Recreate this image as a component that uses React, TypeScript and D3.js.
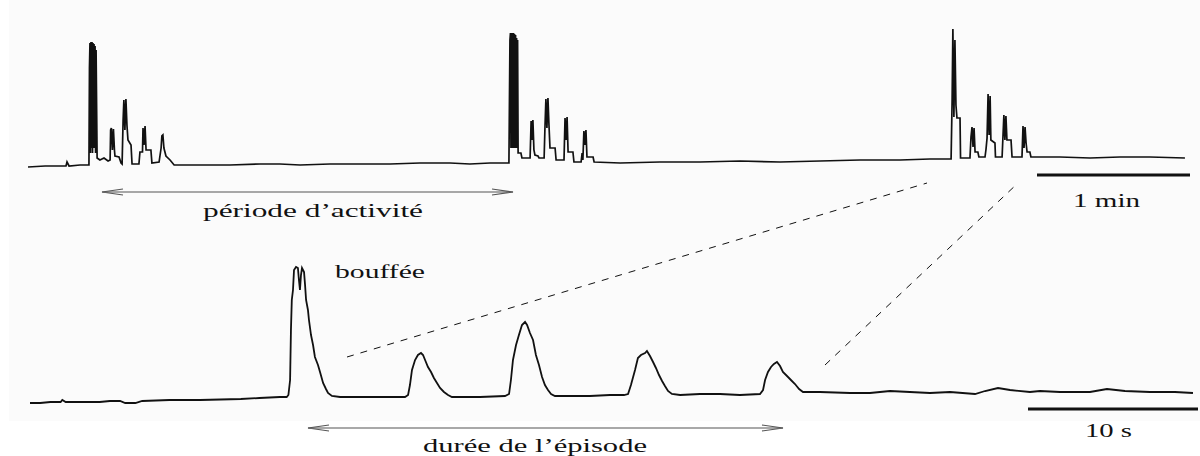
import React from "react";
import * as d3 from "d3";

// Top trace: time (s) and amplitude (arbitrary units)
const topTime: number[] = [
  0, 6.7, 12.5, 14.9, 15.3, 16.1, 20.4, 23.9,
  24.1, 24.3, 24.5, 24.7, 24.9, 25.1, 25.3, 25.5, 25.7, 25.9, 26.1, 26.3, 26.5, 26.7,
  27.1, 28.2, 29.8, 31.4, 32.2,
  32.4, 32.7, 33.1, 33.5, 33.9, 34.1, 35.7, 36.5, 36.9,
  37.3, 37.6, 38.0, 38.4, 38.8, 39.2, 40.4, 40.8, 43.5, 43.9, 44.9,
  45.1, 45.5, 45.9, 46.3, 48.2, 48.6, 51.4, 52.2, 52.5, 52.9, 53.3, 54.1, 55.7, 57.3,
  67.5, 79.2, 91.0, 98.8, 106.7, 118.4, 130.2, 142.0, 153.7, 165.5, 173.3, 181.2, 188.6,
  189.0, 189.2, 189.4, 189.6, 189.8, 190.0, 190.2, 190.4, 190.6, 190.8, 191.0, 191.2, 191.4, 191.6, 191.8, 192.0,
  192.2, 193.3, 193.7, 196.9,
  197.3, 197.6, 198.0, 198.4, 198.8, 200.0, 200.4, 202.4,
  202.7, 203.1, 203.5, 203.9, 204.3, 204.7, 206.7, 207.1, 210.2,
  210.6, 211.0, 211.4, 211.8, 213.7, 214.1, 216.9, 217.3, 217.6,
  218.0, 218.4, 218.8, 219.2, 221.6, 222.0,
  232.2, 247.8, 263.5, 279.2, 294.9, 310.6, 326.3, 342.0, 353.7, 362.0,
  362.4, 362.7, 363.1, 363.5, 363.9, 364.3, 365.5, 365.7, 369.4,
  369.8, 370.2, 370.6, 371.0, 371.4, 372.5, 372.9, 375.3,
  375.7, 376.1, 376.5, 376.9, 377.3, 377.6, 379.2, 379.4, 382.0,
  382.7, 383.1, 383.5, 383.9, 385.5, 385.9, 389.8,
  390.2, 390.6, 391.0, 391.4, 391.8, 392.9, 393.3,
  404.7, 416.5, 428.2, 440.0, 453.7,
];
const topValue: number[] = [
  1, 2, 2, 2, 6, 2, 3, 3,
  100, 125, 15, 126, 20, 126, 15, 125, 20, 124, 20, 122, 15, 118,
  10, 8, 10, 7, 8,
  38, 40, 18, 39, 18, 12, 11, 5, 4,
  48, 68, 38, 69, 43, 28, 23, 4, 4, 16, 16,
  40, 23, 42, 18, 18, 5, 6, 20, 32, 33, 20, 12, 8, 3,
  3, 3, 4, 4, 3, 4, 4, 4, 5, 5, 4, 5, 5,
  128, 135, 20, 135, 20, 135, 20, 135, 20, 134, 20, 133, 20, 130, 20, 128,
  15, 15, 10, 10,
  47, 28, 48, 18, 13, 12, 10, 10,
  38, 69, 40, 70, 43, 20, 20, 8, 8,
  50, 28, 51, 16, 16, 6, 6, 15, 8,
  37, 23, 38, 11, 11, 6,
  5, 6, 6, 7, 6, 7, 8, 8, 9, 9,
  68, 139, 51, 128, 63, 50, 50, 10, 10,
  31, 41, 21, 40, 16, 16, 11, 11,
  19, 30, 74, 33, 72, 28, 25, 11, 11,
  53, 28, 52, 28, 28, 11, 11,
  42, 20, 41, 25, 16, 16, 11,
  11, 10, 11, 11, 10,
];

// Bottom trace (zoom on one episode): time (s) and amplitude
const botTime: number[] = [
  0, 0.6, 1.2, 1.8, 1.9, 2.1, 4.1, 4.7, 5.3, 5.6, 6.2, 6.6, 8.2, 10.0, 12.4, 13.5, 14.7, 15.1,
  15.2, 15.3, 15.35, 15.4, 15.47, 15.53, 15.65, 15.76, 15.82, 15.88, 15.94, 16.0, 16.12, 16.18,
  16.24, 16.35, 16.41, 16.53, 16.65, 16.76, 16.94, 17.06, 17.24, 17.41, 17.53, 17.76, 18.24,
  20.0, 22.06,
  22.24, 22.35, 22.47, 22.65, 22.82, 23.0, 23.12, 23.24, 23.41, 23.59, 23.76, 23.94, 24.12, 24.35, 24.59, 24.82,
  26.47, 27.94,
  28.18, 28.29, 28.41, 28.59, 28.76, 28.94, 29.12, 29.24, 29.41, 29.59, 29.76, 29.94, 30.12, 30.29, 30.47, 30.65, 30.88,
  32.94, 34.12, 34.94,
  35.18, 35.35, 35.59, 35.76, 35.94, 36.18, 36.29, 36.47, 36.65, 36.82, 37.0, 37.18, 37.35, 37.53, 37.76, 38.24,
  39.41, 40.59, 41.76, 42.94,
  43.12, 43.24, 43.41, 43.59, 43.76, 43.94, 44.12, 44.29, 44.53, 44.76, 45.0, 45.24, 45.47,
  46.47, 48.24, 49.41, 50.59, 51.76, 52.94, 54.12, 55.59, 56.18, 56.94, 57.65, 58.82, 59.41,
  60.59, 62.35, 63.35, 64.41, 65.88, 67.35, 68.41,
];
const botValue: number[] = [
  -3, -3, -2, -2, 0, -2, -2, -1, -1, -3, -3, -1, 0, 0, 1, 2, 3, 3,
  5, 20, 70, 100, 110, 130, 133, 132, 120, 110, 125, 132, 128, 115,
  100, 90, 80, 65, 55, 43, 35, 28, 17, 11, 7, 4, 3,
  3, 3,
  5, 15, 30, 40, 45, 47, 45, 40, 33, 28, 22, 17, 12, 8, 5, 3,
  3, 4,
  6, 20, 40, 55, 65, 75, 78, 75, 67, 60, 45, 35, 23, 15, 10, 6, 4,
  4, 5, 5,
  6, 15, 30, 42, 45, 47, 49, 44, 38, 32, 25, 19, 14, 9, 6, 5,
  6, 6, 5, 6,
  10, 20, 28, 33, 36, 38, 34, 28, 24, 20, 16, 11, 8,
  8, 7, 7, 9, 8, 7, 8, 6, 9, 12, 10, 8, 9,
  8, 8, 11, 9, 8, 8, 7,
];

const topLabels = { period: "période d’activité", scale: "1 min" };
const botLabels = { burst: "bouffée", episode: "durée de l’épisode", scale: "10 s" };
const topScaleSeconds = 60;
const botScaleSeconds = 10;

const W = 1200;
const H = 456;

const xTop = d3.scaleLinear().domain([0, 60]).range([28, 181]);
const yTop = d3.scaleLinear().domain([0, 140]).range([168, 28]);
const xBot = d3.scaleLinear().domain([0, 10]).range([30, 200]);
const yBot = d3.scaleLinear().domain([0, 100]).range([400, 300]);

const topLine = d3
  .line<number>()
  .x((_, i) => xTop(topTime[i]))
  .y((v) => yTop(v))
  .curve(d3.curveLinear);
const botLine = d3
  .line<number>()
  .x((_, i) => xBot(botTime[i]))
  .y((v) => yBot(v))
  .curve(d3.curveLinear);

const FONT = "'Liberation Serif', 'Times New Roman', serif";

function DoubleArrow({ x1, x2, y }: { x1: number; x2: number; y: number }) {
  const L = 21;
  const h = 3;
  return (
    <g stroke="#555" strokeWidth={1.2} fill="none">
      <line x1={x1} y1={y} x2={x2} y2={y} />
      <polyline points={`${x1 + L},${y - h} ${x1},${y} ${x1 + L},${y + h}`} />
      <polyline points={`${x2 - L},${y - h} ${x2},${y} ${x2 - L},${y + h}`} />
    </g>
  );
}

function Label({ x1, x2, y, text }: { x1: number; x2: number; y: number; text: string }) {
  return (
    <text
      x={x1}
      y={y}
      fontFamily={FONT}
      fontSize={18}
      fill="#111"
      textLength={x2 - x1}
      lengthAdjust="spacingAndGlyphs"
    >
      {text}
    </text>
  );
}

export default function App() {
  const topBar = xTop(topScaleSeconds) - xTop(0);
  const botBar = xBot(botScaleSeconds) - xBot(0);
  return (
    <svg
      width={W}
      height={H}
      viewBox={`0 0 ${W} ${H}`}
      style={{ position: "fixed", left: 0, top: 0, background: "#fff" }}
    >
      <rect x={9} y={0} width={W - 9} height={421} fill="#fbfbfb" />
      {/* traces */}
      <path d={topLine(topValue) || ""} fill="none" stroke="#111" strokeWidth={1.7} strokeLinejoin="miter" />
      <path d={botLine(botValue) || ""} fill="none" stroke="#111" strokeWidth={1.8} strokeLinejoin="miter" />

      {/* zoom guides */}
      <g stroke="#111" strokeWidth={1} strokeDasharray="7 7" fill="none">
        <line x1={347} y1={357} x2={927} y2={183} />
        <line x1={825} y1={365} x2={1018} y2={183} />
      </g>

      {/* top annotations */}
      <DoubleArrow x1={102} x2={513} y={192} />
      <Label x1={203} x2={423} y={217} text={topLabels.period} />
      <line x1={1037} x2={1037 + topBar} y1={175} y2={175} stroke="#111" strokeWidth={3} />
      <Label x1={1073} x2={1140} y={207} text={topLabels.scale} />

      {/* bottom annotations */}
      <Label x1={335} x2={425} y={278} text={botLabels.burst} />
      <DoubleArrow x1={308} x2={783} y={428} />
      <Label x1={423} x2={647} y={452} text={botLabels.episode} />
      <line x1={1028} x2={1028 + botBar} y1={409} y2={409} stroke="#111" strokeWidth={3} />
      <Label x1={1085} x2={1132} y={437} text={botLabels.scale} />
    </svg>
  );
}
